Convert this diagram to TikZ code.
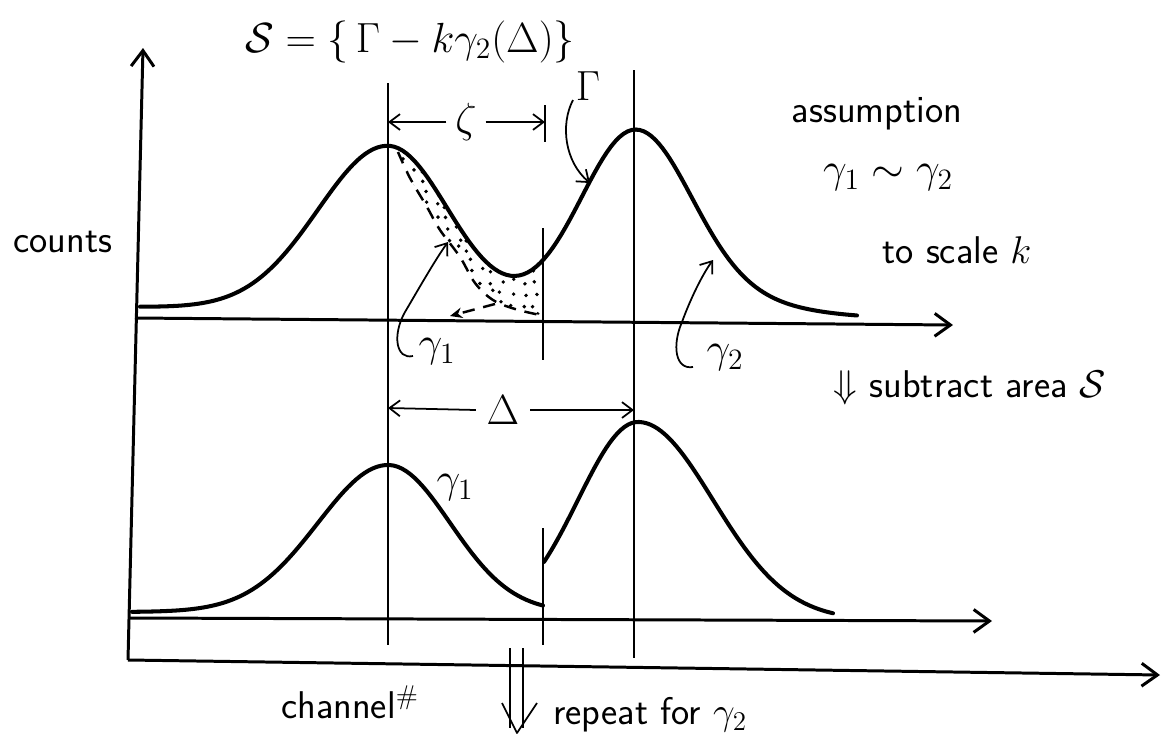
\RequirePackage{fix-cm}
\documentclass[tikz,border=0pt]{standalone}
\usetikzlibrary{arrows.meta}
\begin{document}
\begin{tikzpicture}[x=0.02cm,y=-0.02cm,
  axis/.style={line width=1.7pt, -{Straight Barb[length=9pt,width=13pt,line width=1.7pt]}},
  curve/.style={line width=2.3pt, line join=round, line cap=round},
  guide/.style={line width=0.9pt},
  ann/.style={line width=1pt, -{Straight Barb[length=6pt,width=9pt,line width=1pt]}},
  dashedc/.style={line width=1.4pt, dash pattern=on 7pt off 5pt},
  lbl/.style={font=\fontsize{22}{26}\selectfont\sffamily, inner sep=0pt},
  mlbl/.style={font=\fontsize{24}{28}\selectfont, inner sep=0pt}]
\useasboundingbox (0,0) rectangle (1161,741);

% axes
\coordinate (O) at (128,660);
\coordinate (Ytop) at (143,48);
\coordinate (Xend) at (1160,675);
\coordinate (U0) at (135,318);
\coordinate (U1) at (953,325);
\coordinate (L0) at (130,618);
\coordinate (L1) at (992,621);
\draw[axis] (O) -- (Ytop);
\draw[axis] (O) -- (Xend);
\draw[axis] (U0) -- (U1);
\draw[axis] (L0) -- (L1);

% guide lines
\draw[guide] (388,83) -- (388,645);
\draw[guide] (634,70) -- (634,658);
\draw[guide] (543,228) -- (543,360);
\draw[guide] (543,528) -- (543,645);
\draw[guide] (545,105) -- (545,142);

% stippled area
\begin{scope}
\clip plot[domain=388:543, samples=40] (\x,{307+(\x-140)*0.0153 - 165*exp(-0.5*((\x-388)/61)^2) - 185*exp(-0.5*((\x-636)/56)^2)})
  -- (543,316) -- plot[smooth, tension=0.6] coordinates {(540,315) (515,309) (493,300) (475,283) (460,257) (440,230) (427,207) (410,178) (398,152)} -- cycle;
\pgfmathsetseed{7}
\foreach \i in {0,...,14}{
  \foreach \j in {0,...,16}{
    \pgfmathsetmacro\xx{392+\i*11+rand*3}
    \pgfmathsetmacro\yy{150+\j*11+rand*3}
    \fill (\xx,\yy) circle (1.1pt);
  }
}
\end{scope}

% dashed scaled gamma2 tail
\draw[dashedc] plot[smooth, tension=0.6] coordinates {(398,152) (410,178) (427,207) (440,230) (460,257) (475,283) (493,300) (515,309) (540,315)};
\draw[dashedc, -{Stealth[length=7pt,width=6pt]}] (495,304) -- (450,316);

% upper spectrum
\draw[curve] plot[domain=140:636, samples=120] (\x,{307+(\x-140)*0.0153 - 165*exp(-0.5*((\x-388)/ifthenelse(\x<388,70,61))^2) - 185*exp(-0.5*((\x-636)/56)^2)});
\draw[curve] plot[domain=636:857, samples=60] (\x,{307+(\x-140)*0.0153 - 185*(0.8*exp(-0.5*((\x-636)/54)^2) + 0.2*exp(-0.5*((\x-636)/95)^2))});

% lower spectrum
\draw[curve] plot[domain=132:543, samples=100] (\x,{612 - 147*exp(-0.5*((\x-388)/ifthenelse(\x<388,70,62))^2)});
\draw[curve] plot[domain=544:833, samples=80] (\x,{620 - 198*exp(-0.5*((\x-638)/ifthenelse(\x<638,60,75))^2)});

% labels
\node[mlbl] (title) at (410,42) {$\mathcal{S} = \{\,\Gamma - k\gamma_2(\Delta)\}$};
\node[mlbl, inner sep=5pt] (zeta) at (466,122) {$\zeta$};
\draw[ann] (zeta.west) -- (388,122);
\draw[ann] (zeta.east) -- (545,122);
\node[mlbl] (Gam) at (588,86) {$\Gamma$};
\draw[ann] (573,100) .. controls (560,125) and (565,162) .. (590,183);
\node[lbl] (counts) at (63,242) {counts};
\node[lbl] (assump) at (877,114) {assumption};
\node[mlbl] (sim) at (888,178) {$\gamma_1\sim\gamma_2$};
\node[lbl] (scale) at (957,250) {to scale $k$};
\node[mlbl] (g1) at (437,352) {$\gamma_1$};
\draw[ann] (413,356) .. controls (396,360) and (392,335) .. (405,312) .. controls (418,290) and (435,260) .. (448,242);
\node[mlbl] (g2) at (725,358) {$\gamma_2$};
\draw[ann] (693,367) .. controls (675,370) and (672,345) .. (682,322) .. controls (690,300) and (702,275) .. (713,260);
\node[lbl] (sub) at (970,388) {$\Downarrow$ subtract area $\mathcal{S}$};
\node[mlbl, inner sep=6pt] (Delta) at (503,410) {$\Delta$};
\draw[ann] (Delta.west) -- (388,408);
\draw[ann] (Delta.east) -- (634,410);
\node[mlbl] (g1b) at (455,488) {$\gamma_1$};
\node[lbl] (chan) at (350,702) {channel$^{\#}$};
\node[lbl, anchor=west] (rep) at (553,715) {repeat for $\gamma_2$};

% double arrow "repeat"
\draw[line width=1pt] (510,648) -- (510,728);
\draw[line width=1pt] (523,648) -- (523,728);
\draw[line width=1pt, line join=round] (502,703) -- (517,733) -- (537,703);
\end{tikzpicture}
\end{document}
